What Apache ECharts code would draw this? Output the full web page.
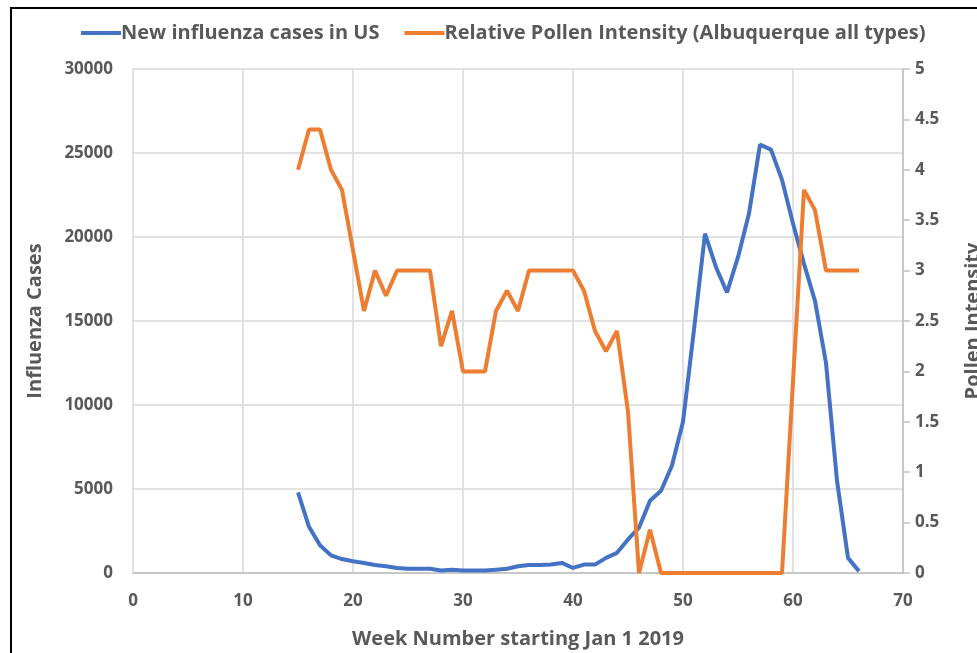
<!DOCTYPE html>
<html>
<head>
<meta charset="utf-8">
<script src="https://cdn.jsdelivr.net/npm/echarts@6/dist/echarts.min.js"></script>
<style>
  html, body { margin: 0; padding: 0; background: #fff; }
  #main { width: 977px; height: 653px; }
</style>
</head>
<body>
<div id="main"></div>
<script>
// week numbers (starting Jan 1 2019)
const weeks = [15,16,17,18,19,20,21,22,23,24,25,26,27,28,29,30,31,32,33,34,35,36,37,38,39,40,
  41,42,43,44,45,46,47,48,49,50,51,52,53,54,55,56,57,58,59,60,61,62,63,64,65,66]

// new influenza cases in US
const fluCases = [4800,2750,1650,1050,830,700,600,480,400,300,250,250,250,150,200,150,150,150,200,250,
  400,480,480,500,600,300,500,500,900,1200,2000,2700,4300,4900,6400,9000,14500,20200,18200,16700,
  18800,21400,25500,25200,23400,20800,18400,16200,12500,5500,900,100]

// relative pollen intensity (Albuquerque all types)
const pollen = [4.0,4.4,4.4,4.0,3.8,3.2,2.6,3.0,2.75,3.0,3.0,3.0,3.0,2.25,2.6,2.0,2.0,2.0,2.6,2.8,
  2.6,3.0,3.0,3.0,3.0,3.0,2.8,2.4,2.2,2.4,1.6,0,0.43,0,0,0,0,0,0,0,
  0,0,0,0,0,1.9,3.8,3.6,3.0,3.0,3.0,3.0]

const seriesNames = ['New influenza cases in US', 'Relative Pollen Intensity (Albuquerque all types)']

const textColor = '#595959'
const fontFamily = '"Open Sans", sans-serif'

const myChart = echarts.init(document.getElementById('main'))

myChart.setOption({
  animation: false,
  backgroundColor: '#fff',
  textStyle: { fontFamily },
  graphic: [{
    type: 'rect',
    shape: { x: 11, y: 8, width: 1000, height: 700 },
    style: { fill: 'none', stroke: '#000', lineWidth: 2 },
    silent: true,
  }],
  legend: {
    data: seriesNames,
    top: 18,
    left: 76,
    itemWidth: 40,
    itemHeight: 4,
    itemGap: 25,
    icon: 'rect',
    textStyle: { color: textColor, fontSize: 20, fontWeight: 'bold', fontFamily, padding: [0, 0, 0, -5] },
  },
  grid: { left: 133, right: 74, top: 69, bottom: 80, outerBoundsMode: 'none', containLabel: false },
  xAxis: {
    type: 'value',
    min: 0,
    max: 70,
    interval: 10,
    name: 'Week Number starting Jan 1 2019',
    nameLocation: 'middle',
    nameGap: 56,
    nameTextStyle: { color: textColor, fontSize: 20, fontWeight: 'bold', fontFamily },
    axisLine: { lineStyle: { color: '#bfbfbf', width: 1.5 } },
    axisTick: { show: false },
    axisLabel: { color: textColor, fontSize: 17, fontWeight: 'bold', margin: 20 },
    splitLine: { show: true, lineStyle: { color: '#d9d9d9', width: 1.5 } },
  },
  yAxis: [{
    type: 'value',
    min: 0,
    max: 30000,
    interval: 5000,
    name: 'Influenza Cases',
    nameLocation: 'middle',
    nameGap: 88,
    nameTextStyle: { color: textColor, fontSize: 20, fontWeight: 'bold', fontFamily },
    axisLine: { show: false },
    axisTick: { show: false },
    axisLabel: { color: textColor, fontSize: 17, fontWeight: 'bold', margin: 20, formatter: v => String(v) },
    splitLine: { lineStyle: { color: '#d9d9d9', width: 1.5 } },
  }, {
    type: 'value',
    min: 0,
    max: 5,
    interval: 0.5,
    name: 'Pollen Intensity',
    nameLocation: 'middle',
    nameGap: 60,
    nameRotate: 90,
    nameTextStyle: { color: textColor, fontSize: 20, fontWeight: 'bold', fontFamily },
    axisLine: { show: true, lineStyle: { color: '#bfbfbf', width: 1.5 } },
    axisTick: { show: true, length: 7, lineStyle: { color: '#bfbfbf', width: 1.5 } },
    axisLabel: { color: textColor, fontSize: 17, fontWeight: 'bold', margin: 12 },
    splitLine: { show: false },
  }],
  series: [{
    name: seriesNames[0],
    type: 'line',
    yAxisIndex: 0,
    showSymbol: false,
    symbol: 'none',
    data: weeks.map((w, i) => [w, fluCases[i]]),
    lineStyle: { color: '#4472C4', width: 4 },
    itemStyle: { color: '#4472C4' },
  }, {
    name: seriesNames[1],
    type: 'line',
    yAxisIndex: 1,
    showSymbol: false,
    symbol: 'none',
    data: weeks.map((w, i) => [w, pollen[i]]),
    lineStyle: { color: '#ED7D31', width: 4 },
    itemStyle: { color: '#ED7D31' },
  }],
})
</script>
</body>
</html>
